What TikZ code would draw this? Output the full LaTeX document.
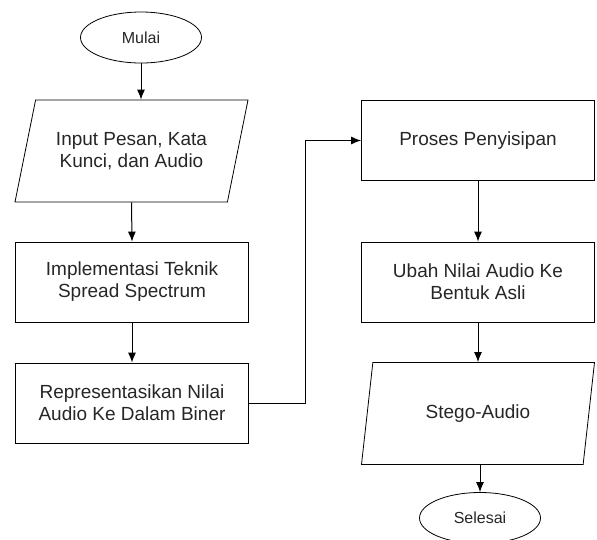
\documentclass[tikz,border=0pt]{standalone}
\usepackage{fontspec}
\setmainfont{Liberation Sans}
\usetikzlibrary{arrows,arrows.meta,shapes.geometric,positioning}

\tikzset{
  proses/.style={draw, rectangle, minimum width=233pt, minimum height=80pt,
    align=center, font=\fontsize{19}{22}\selectfont},
  io/.style={draw, trapezium, trapezium left angle=65, trapezium right angle=115,
    trapezium stretches body, minimum width=233pt, minimum height=102pt,
    align=center, font=\fontsize{19}{22}\selectfont},
  terminal/.style={draw, ellipse, minimum width=121pt, minimum height=51pt,
    font=\fontsize{16}{19}\selectfont},
  panah/.style={-{Latex[length=10pt,width=8pt]}, line width=1pt}
}

\begin{document}
\begin{tikzpicture}[x=1pt, y=-1pt, line width=0.8pt, text=black!85]
\useasboundingbox (0,0) rectangle (597,539);

% kolom kiri
\node[terminal] (mulai) at (141,37.5) {Mulai};
\node[io] (input) at (131.5,151) {Input Pesan, Kata\\Kunci, dan Audio};
\node[proses] (implementasi) at (132,282) {Implementasi Teknik\\Spread Spectrum};
\node[proses] (representasi) at (132,403) {Representasikan Nilai\\Audio Ke Dalam Biner};

% kolom kanan
\node[proses] (penyisipan) at (478,140.5) {Proses Penyisipan};
\node[proses] (ubah) at (478,282) {Ubah Nilai Audio Ke\\Bentuk Asli};
\node[io] (stego) at (478,413.5) {Stego-Audio};
\node[terminal] (selesai) at (480,518) {Selesai};

\coordinate (belok) at (305,0);

\draw[panah] (mulai.south) -- (mulai.south |- input.north);
\draw[panah] (input.south) -- (implementasi.north);
\draw[panah] (implementasi) -- (representasi);
\draw[panah] (representasi.east) -- (representasi.east -| belok) |- (penyisipan.west);
\draw[panah] (penyisipan) -- (ubah);
\draw[panah] (ubah) -- (ubah |- stego.north);
\draw[panah] (stego.south -| selesai) -- (selesai.north);
\end{tikzpicture}
\end{document}
